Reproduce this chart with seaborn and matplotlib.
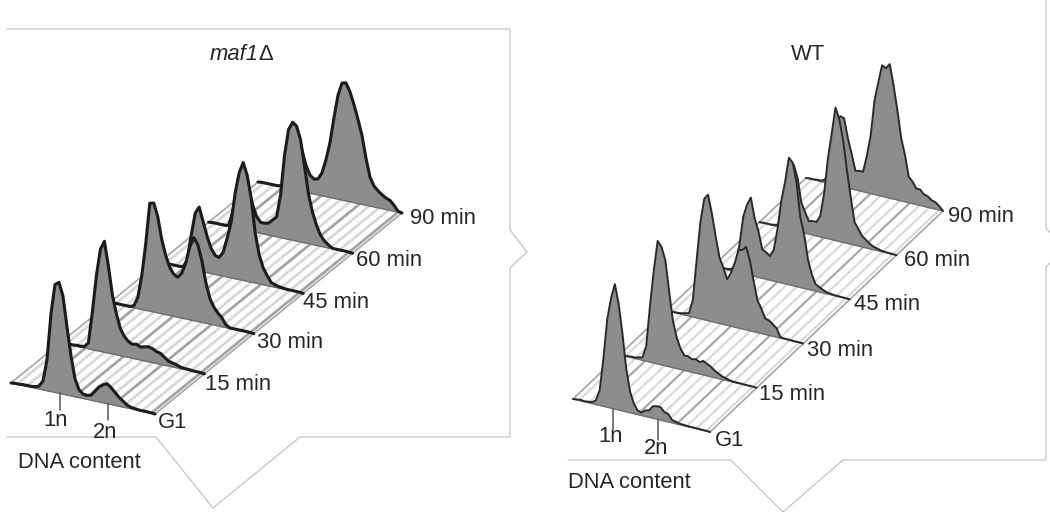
import matplotlib
matplotlib.use('Agg')
import matplotlib.pyplot as plt
import seaborn as sns
import pandas as pd
import numpy as np

# Etiquetas de los tiempos, de delante hacia atras
tiempos = ['G1', '15 min', '30 min', '45 min', '60 min', '90 min']

# Alturas de los histogramas (37 canales de contenido de ADN)
maf1_g1 = [0,.5,.5,1,1,1,1.5,3,9,31,78,108,111,98,68,40,18,8,4.5,4,5,10,15,18,20,17,13,9,6,3,1.5,1,.5,.5,.5,.3,0]
maf1_15 = [0,.5,.5,.5,1,1,1.5,6,38,75,102,111,87,59,41,27,20,16,14,15,13,14,15,14,12,11,8,5,4,3,1.5,1,1,.5,.5,.3,0]
maf1_30 = [0,.5,.5,.5,.5,.5,2,11,34,67,108,109,96,74,59,48,42,40,45,56,73,83,77,62,41,26,18,13,9,3,.5,.5,.5,.5,.5,.3,0]
maf1_45 = [0,.5,.5,.5,.5,.5,1,8,34,57,64,50,36,25,19,18,24,39,56,86,107,118,106,84,50,29,17,10,4,2.5,1.5,1,.5,.5,.5,.3,0]
maf1_60 = [0,.5,.5,.5,.5,1,15,35,50,52,41,27,16,11,11,12,16,20,43,84,110,118,115,102,76,49,32,20,11,6,3,.5,.5,.5,.5,.3,0]
maf1_90 = [0,.5,.5,.5,.5,.5,2,15,35,47,47,41,27,18,15,16,23,37,55,81,104,117,118,110,98,84,69,47,29,21,17,14,11.5,10,6,1,0]

wt_g1 = [0,.5,1,.5,1,1.5,4,15,48,88,110,125,106,77,43,21,10,4,3,6,7,12,13,13,9,8,3,2,1,.8,.5,.5,.4,.4,.3,.3,0]
wt_15 = [0,.5,.5,1,1,2,3,15,57,93,123,118,106,76,47,31,21,15,15,13,14,12,14,12,10,7,5,3,2,1,.5,.5,.5,.3,.3,.3,0]
wt_30 = [0,.5,.5,.5,1,2,3,17,58,97,121,126,108,86,66,57,46,53,64,78,79,83,70,50,32,25,16,15,12,9,1,.5,.5,.4,.3,.3,0]
wt_45 = [0,.5,.5,1,1,2,6,28,57,70,78,58,46,29,27,24,31,53,82,102,127,123,104,70,54,30,16,7,5,3,1.5,1,.5,.5,.3,.3,0]
wt_60 = [0,.5,.5,.5,1,2,18,43,67,66,54,30,21,13,14,14,21,44,80,106,133,122,102,73,47,23,17,11,8,5,3,2,1,.5,.3,.3,0]
wt_90 = [0,.5,.5,1,1,3,12,33,64,70,69,50,35,19,20,20,37,58,94,113,131,129,134,114,90,63,47,26,22,16,16,12,11,8,7,4,0]

maf1_series = [maf1_g1, maf1_15, maf1_30, maf1_45, maf1_60, maf1_90]
wt_series = [wt_g1, wt_15, wt_30, wt_45, wt_60, wt_90]

sns.set_style('white')
plt.rcParams['font.family'] = ['Liberation Sans', 'DejaVu Sans']
TXT = '#262626'
FS = 15.8

fig = plt.figure(figsize=(10.5, 5.12), dpi=100)
ax = fig.add_axes([0, 0, 1, 1])
ax.set_xlim(0, 1050)
ax.set_ylim(512, 0)
ax.axis('off')


# Definimos la funcion que dibuja un panel en perspectiva
def panel(series, origen, ancho, prof, lw_curva, col_curva, lw_raya, n_rayas):
    o = np.array(origen, dtype=float)
    u = np.array(ancho, dtype=float)
    v = np.array(prof, dtype=float)

    # plano rayado
    for k in range(n_rayas):
        t = (k + 0.6) / n_rayas
        a = o + u * t
        b = a + v * 5
        oscura = k % 4 == 2
        ax.plot([a[0], b[0]], [a[1], b[1]], color='#a4a4a4' if oscura else '#d8d8d8',
                lw=lw_raya, solid_capstyle='butt', zorder=1)
    for t in [0, 1]:
        a = o + u * t
        b = a + v * 5
        ax.plot([a[0], b[0]], [a[1], b[1]], color='#a5a5a5', lw=1.2, zorder=1)

    # histogramas de atras hacia delante
    for n in range(5, -1, -1):
        h = np.array(series[n], dtype=float)
        t = np.arange(len(h)) / (len(h) - 1)
        bx = o[0] + u[0] * t + v[0] * n
        by = o[1] + u[1] * t + v[1] * n
        df = pd.DataFrame({'x': bx, 'y': by - h})
        z = 10 + (5 - n) * 2
        ax.fill_between(bx, by, by - h, color='#8d8d8d', lw=0, zorder=z)
        ax.plot(bx, by, color='#6e6e6e', lw=1.0, zorder=z)
        sns.lineplot(data=df, x='x', y='y', sort=False, estimator=None, color=col_curva,
                     lw=lw_curva, ax=ax, zorder=z + 1)


panel(maf1_series, (11, 383), (144, 31), (49.4, -40.2), 2.2, '#1c1c1c', 2.0, 15)
panel(wt_series, (573, 399), (137, 33), (46.6, -44.2), 1.4, '#2a2a2a', 1.5, 14)
ax.set_xlabel('')
ax.set_ylabel('')

# Marcos grises de fondo
marco = dict(color='#c4c4c4', lw=0.9, zorder=0)
ax.plot([7, 510, 510, 527, 510, 510, 300, 213, 156, 7],
        [29, 29, 230, 252, 268, 437, 437, 508, 437, 437], **marco)
ax.plot([1046, 1046, 1051], [0, 228, 234], **marco)
ax.plot([1051, 1046, 1046, 843, 783, 731, 568],
        [262, 267, 460, 460, 512, 460, 460], **marco)

# Marcas 1n y 2n
for xm, y0, y1 in [(60, 393, 410), (108, 403, 420), (613, 409, 430), (658, 420, 440)]:
    ax.plot([xm, xm], [y0, y1], color='#555555', lw=1.1, zorder=30)

# Textos
etq = dict(color=TXT, fontsize=FS, va='center', zorder=40)
pos_izq = [(158, 422), (205, 385), (257, 342), (303, 303), (356, 261), (410, 218)]
pos_der = [(715, 440), (759, 394), (807, 350), (854, 304), (904, 261), (948, 217)]
for nombre, p, q in zip(tiempos, pos_izq, pos_der):
    ax.text(p[0], p[1], nombre, **etq)
    ax.text(q[0], q[1], nombre, **etq)
ax.text(56, 421, '1n', ha='center', **etq)
ax.text(105, 433, '2n', ha='center', **etq)
ax.text(611, 436, '1n', ha='center', **etq)
ax.text(656, 449, '2n', ha='center', **etq)
ax.text(18, 462, 'DNA content', **etq)
ax.text(568, 482, 'DNA content', **etq)
ax.text(210, 55, 'maf1', style='italic', **etq)
ax.text(258, 55, '\u0394', **etq)
ax.text(808, 55, 'WT', ha='center', **etq)

plt.savefig('out.png', dpi=100)
